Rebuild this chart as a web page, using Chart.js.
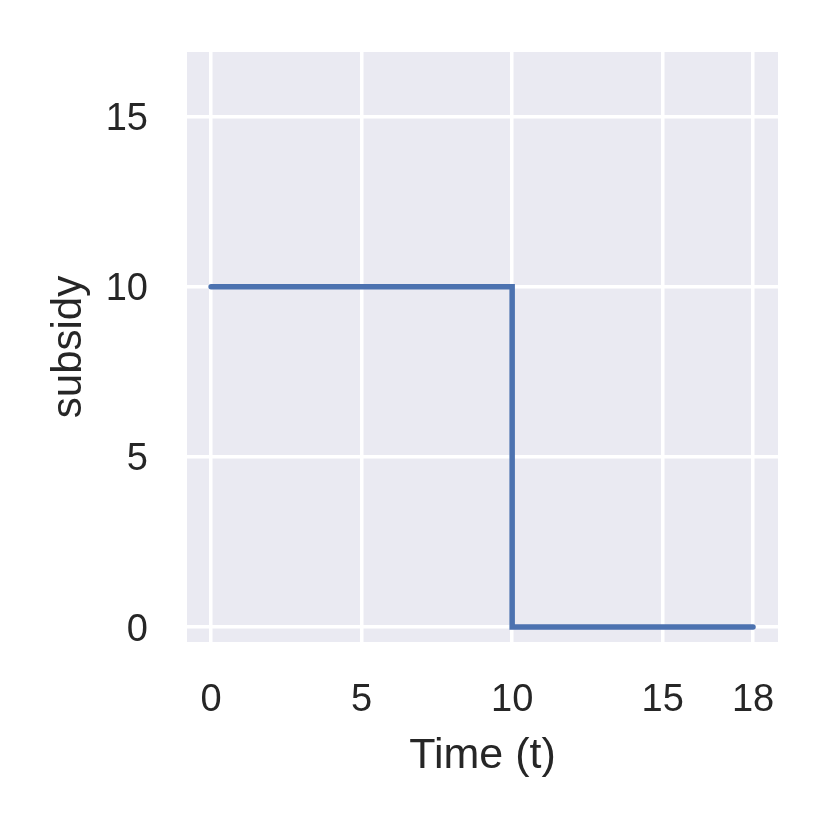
<!DOCTYPE html>
<html>
<head>
<meta charset="utf-8">
<script src="https://cdn.jsdelivr.net/npm/chart.js@4"></script>
<style>
  html, body { margin: 0; padding: 0; background: #ffffff; }
  #wrap { width: 830px; height: 830px; }
</style>
</head>
<body>
<div id="wrap"><canvas id="c" width="830" height="830"></canvas></div>
<script>
// ---- data ----
const timeSteps = [0, 1, 2, 3, 4, 5, 6, 7, 8, 9, 10, 11, 12, 13, 14, 15, 16, 17, 18];
const subsidy   = [10, 10, 10, 10, 10, 10, 10, 10, 10, 10, 0, 0, 0, 0, 0, 0, 0, 0, 0];
const xTickValues = [0, 5, 10, 15, 18];
const yTickValues = [0, 5, 10, 15];
const xTitle = 'Time (t)';
const yTitle = 'subsidy';

const FONT = "'Liberation Sans', Arial, sans-serif";
const TEXT = '#262626';

const bgPlugin = {
  id: 'bgPlugin',
  beforeDraw(chart) {
    const { ctx, chartArea: a } = chart;
    ctx.save();
    ctx.fillStyle = '#EAEAF2';
    ctx.fillRect(a.left, a.top, a.right - a.left, a.bottom - a.top);
    ctx.restore();
  }
};

new Chart(document.getElementById('c'), {
  type: 'line',
  data: {
    datasets: [{
      data: timeSteps.map((t, i) => ({ x: t, y: subsidy[i] })),
      stepped: true,
      borderColor: '#4C72B0',
      borderWidth: 5.5,
      borderCapStyle: 'round',
      borderJoinStyle: 'miter',
      pointRadius: 0,
      fill: false
    }]
  },
  options: {
    responsive: false,
    animation: false,
    layout: { padding: { top: 52, right: 52, left: 0, bottom: 0 } },
    plugins: { legend: { display: false }, tooltip: { enabled: false } },
    scales: {
      x: {
        type: 'linear',
        min: -0.8,
        max: 18.83,
        afterBuildTicks(s) { s.ticks = xTickValues.map(v => ({ value: v })); },
        afterFit(s) { s.height = 188; s.paddingLeft = 0; s.paddingRight = 0; },
        grid: { color: '#ffffff', lineWidth: 3.5, drawTicks: false },
        border: { display: false },
        ticks: { color: TEXT, font: { family: FONT, size: 38 }, padding: 36, maxRotation: 0, autoSkip: false },
        title: { display: true, text: xTitle, color: TEXT, font: { family: FONT, size: 43 }, padding: { top: 0, bottom: 48 } }
      },
      y: {
        type: 'linear',
        min: -0.44,
        max: 16.9,
        afterBuildTicks(s) { s.ticks = yTickValues.map(v => ({ value: v })); },
        afterFit(s) { s.width = 187; s.paddingTop = 0; s.paddingBottom = 0; },
        grid: { color: '#ffffff', lineWidth: 3.5, drawTicks: false },
        border: { display: false },
        ticks: { color: TEXT, font: { family: FONT, size: 38 }, padding: 39, labelOffset: 3, autoSkip: false },
        title: { display: true, text: yTitle, color: TEXT, font: { family: FONT, size: 42 }, padding: { top: 44, bottom: 0 } }
      }
    }
  },
  plugins: [bgPlugin]
});
</script>
</body>
</html>
